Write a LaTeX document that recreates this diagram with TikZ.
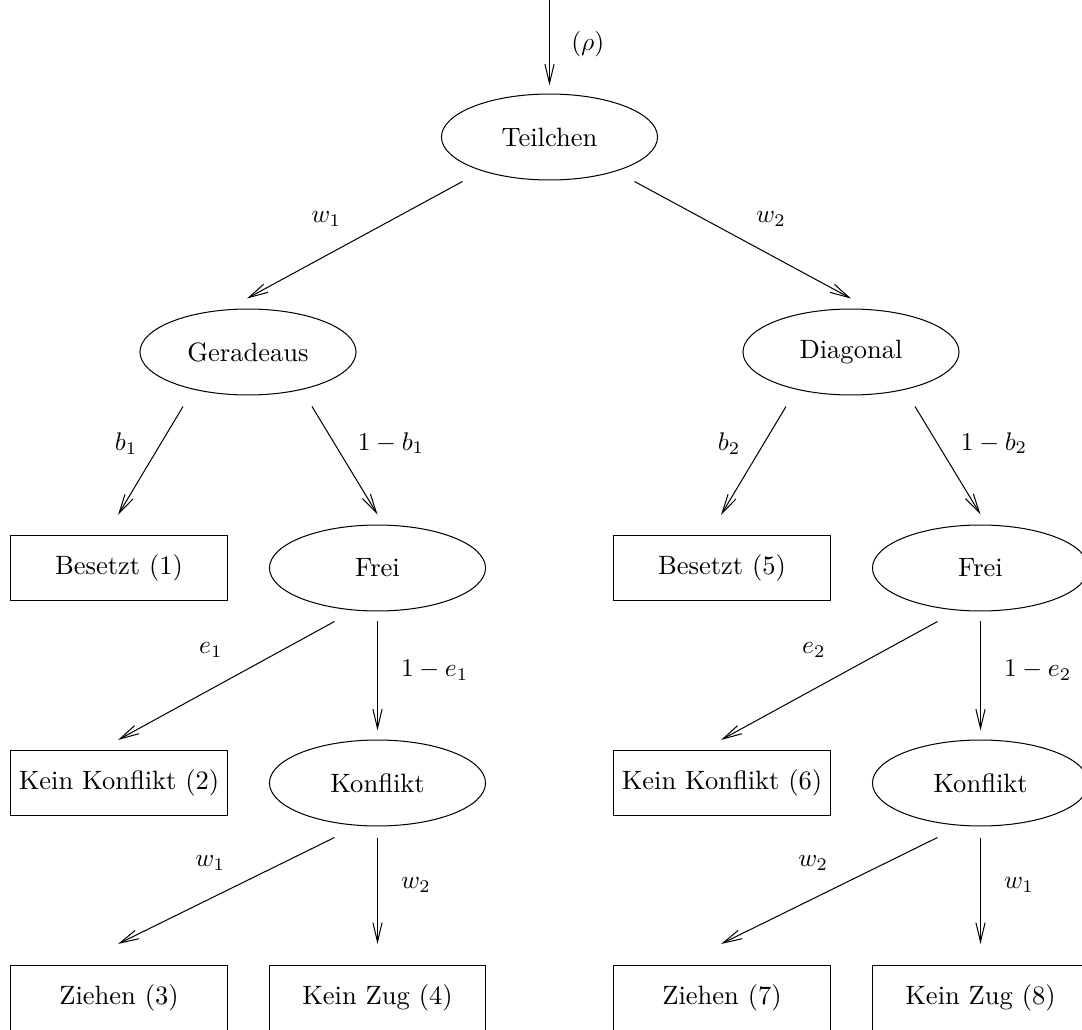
\documentclass[tikz,border=0pt]{standalone}
\usepackage{amsmath,amssymb}
\usepackage{tikz}
\usetikzlibrary{arrows.meta,shapes.geometric,calc}

\begin{document}
\begin{tikzpicture}[x=0.392pt,y=-0.392pt,->,>={Straight Barb[length=7.5pt,width=3.6pt]},thin,
    every node/.style={font=\fontsize{10.4pt}{12.5pt}\selectfont},
    zustand/.style={ellipse,draw,minimum width=84.7pt,minimum height=33.7pt,inner sep=0pt},
    ergebnis/.style={rectangle,draw,minimum width=84.7pt,minimum height=25.5pt,inner sep=0pt}]
    \useasboundingbox (0,0) rectangle (1082,1030);
    \clip (0,0) rectangle (1082,1030);
    % ------------------------------------------------------------------
    %                             NODES
    % ------------------------------------------------------------------
    % top
    \coordinate (ein) at (549.5,-2);
    \node[zustand]  (t)   at (549.5,137)  {Teilchen};
    % second row
    \node[zustand]  (g)   at (248,352)  {Geradeaus};
    \node[zustand]  (d)   at (851,352)  {Diagonal};
    % third row
    \node[ergebnis] (b1)  at (119,568)  {Besetzt (1)};
    \node[zustand]  (f1)  at (377.5,568)  {Frei};
    \node[ergebnis] (b5)  at (722,568)  {Besetzt (5)};
    \node[zustand]  (f2)  at (980.5,568)  {Frei};
    % fourth row
    \node[ergebnis] (kk2) at (119,783)  {Kein Konflikt (2)};
    \node[zustand]  (k1)  at (377.5,783)  {Konflikt};
    \node[ergebnis] (kk6) at (722,783)  {Kein Konflikt (6)};
    \node[zustand]  (k2)  at (980.5,783)  {Konflikt};
    % bottom row
    \node[ergebnis] (z3)  at (119,998)  {Ziehen (3)};
    \node[ergebnis] (kz4) at (377.5,998)  {Kein Zug (4)};
    \node[ergebnis] (z7)  at (722,998)  {Ziehen (7)};
    \node[ergebnis] (kz8) at (980.5,998)  {Kein Zug (8)};

    % ------------------------------------------------------------------
    %                             EDGES
    % ------------------------------------------------------------------
    \path
      % into Teilchen
      (ein) edge node[right=5pt,pos=0.53] {$(\rho)$} ($(t.north)+(0,-8)$)
      % from Teilchen
      ($(t.south)+(-87,1)$) edge node[left=17pt,pos=0.32]  {$w_1$} ($(g.north)+(-1,-10)$)
      ($(t.south)+(85,1)$)  edge node[right=17pt,pos=0.32] {$w_2$} ($(d.north)+(0,-10)$)
      % from Geradeaus
      ($(g.south)+(-65,11)$) edge node[left=5.7pt,pos=0.34]  {$b_1$}   ($(b1.north)+(-1,-20)$)
      ($(g.south)+(64,11)$)  edge node[right=5.7pt,pos=0.34] {$1-b_1$} ($(f1.north)+(0,-10)$)
      % from Diagonal
      ($(d.south)+(-65,11)$) edge node[left=5.7pt,pos=0.34]  {$b_2$}   ($(b5.north)+(-1,-20)$)
      ($(d.south)+(64,11)$)  edge node[right=5.7pt,pos=0.34] {$1-b_2$} ($(f2.north)+(0,-10)$)
      % from Frei (left)
      ($(f1.south)+(-43,10)$) edge node[left=20pt,pos=0.24]   {$e_1$}   ($(kk2.north)+(-1,-10)$)
      ($(f1.south)+(0,10)$)   edge node[right=5.7pt,pos=0.45] {$1-e_1$} ($(k1.north)+(0,-9)$)
      % from Frei (right)
      ($(f2.south)+(-43,10)$) edge node[left=20pt,pos=0.24]   {$e_2$}   ($(kk6.north)+(-1,-10)$)
      ($(f2.south)+(0,10)$)   edge node[right=5.7pt,pos=0.45] {$1-e_2$} ($(k2.north)+(0,-9)$)
      % from Konflikt (left)
      ($(k1.south)+(-43,11)$) edge node[left=19pt,pos=0.24]   {$w_1$} ($(z3.north)+(-1,-21)$)
      ($(k1.south)+(0,11)$)   edge node[right=5.7pt,pos=0.45] {$w_2$} ($(kz4.north)+(0,-21)$)
      % from Konflikt (right)
      ($(k2.south)+(-43,11)$) edge node[left=19pt,pos=0.24]   {$w_2$} ($(z7.north)+(-1,-21)$)
      ($(k2.south)+(0,11)$)   edge node[right=5.7pt,pos=0.45] {$w_1$} ($(kz8.north)+(0,-21)$);
\end{tikzpicture}
\end{document}
